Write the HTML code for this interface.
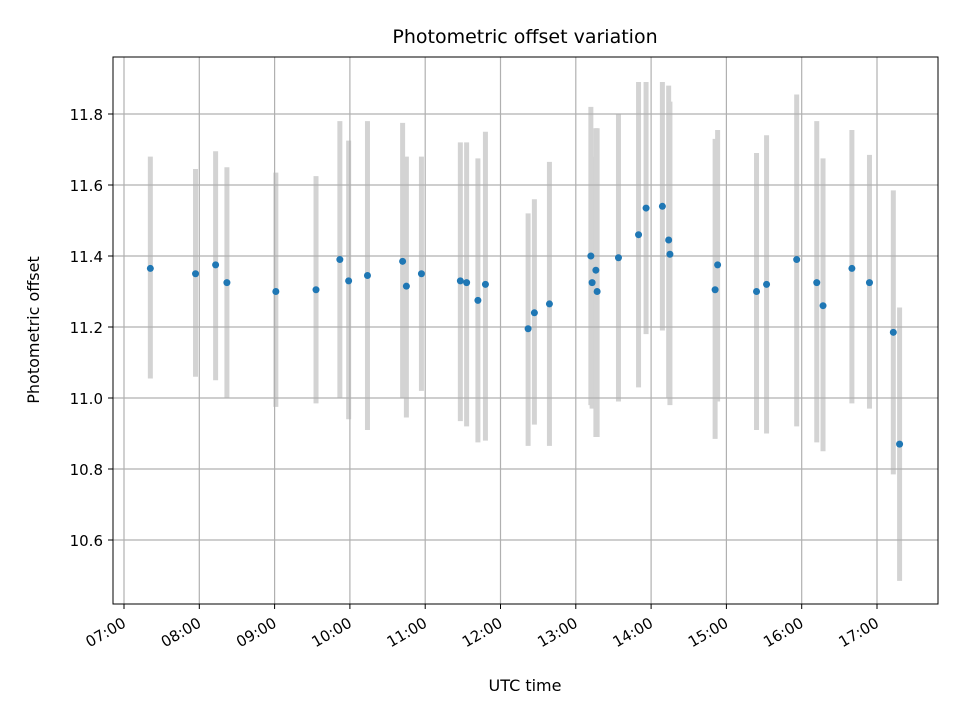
<!DOCTYPE html>
<html><head><meta charset="utf-8"><style>
body{margin:0;background:#fff}
svg{display:block;font-family:"DejaVu Sans","Liberation Sans",sans-serif}
</style></head><body>
<svg id="chart" width="960" height="720" xmlns="http://www.w3.org/2000/svg">
<rect width="960" height="720" fill="#fff"/>
<g id="bars"></g>
<g id="grid"></g>
<g id="pts"></g>
<rect x="113" y="57" width="825" height="547" fill="none" stroke="#000" stroke-width="1"/>
<g id="axes"></g>
<text x="525" y="43" text-anchor="middle" font-size="19">Photometric offset variation</text>
<text x="525" y="691" text-anchor="middle" font-size="16">UTC time</text>
<text transform="translate(39,330) rotate(-90)" text-anchor="middle" font-size="16">Photometric offset</text>
</svg>
<script>
const times=["07:21","07:57","08:13","08:22","09:01","09:33","09:52","09:59","10:14","10:42","10:45","10:57","11:28","11:33","11:42","11:48","12:22","12:27","12:39","13:12","13:13","13:16","13:17","13:34","13:50","13:56","14:09","14:14","14:15","14:51","14:53","15:24","15:32","15:56","16:12","16:17","16:40","16:54","17:13","17:18"];
const values=[11.365,11.35,11.375,11.325,11.30,11.305,11.39,11.33,11.345,11.385,11.315,11.35,11.33,11.325,11.275,11.32,11.195,11.24,11.265,11.40,11.325,11.36,11.30,11.395,11.46,11.535,11.54,11.445,11.405,11.305,11.375,11.30,11.32,11.39,11.325,11.26,11.365,11.325,11.185,10.87];
const upper=[11.68,11.645,11.695,11.65,11.635,11.625,11.78,11.725,11.78,11.775,11.68,11.68,11.72,11.72,11.675,11.75,11.52,11.56,11.665,11.82,11.68,11.76,11.76,11.80,11.89,11.89,11.89,11.88,11.835,11.73,11.755,11.69,11.74,11.855,11.78,11.675,11.755,11.685,11.585,11.255];
const lower=[11.055,11.06,11.05,11.0,10.975,10.985,11.0,10.94,10.91,11.0,10.945,11.02,10.935,10.92,10.875,10.88,10.865,10.925,10.865,10.98,10.97,10.89,10.89,10.99,11.03,11.18,11.19,11.0,10.98,10.885,10.99,10.91,10.9,10.92,10.875,10.85,10.985,10.97,10.785,10.485];
const xTicks=["07:00","08:00","09:00","10:00","11:00","12:00","13:00","14:00","15:00","16:00","17:00"];
const yTicks=[10.6,10.8,11.0,11.2,11.4,11.6,11.8];
const NS="http://www.w3.org/2000/svg";
function mins(t){const p=t.split(":");return +p[0]*60+ +p[1];}
function X(t){return 124+(mins(t)-420)*75.3/60;}
function Y(v){return 398-(v-11.0)*355;}
function mk(tag,attrs,parent){const e=document.createElementNS(NS,tag);for(const k in attrs)e.setAttribute(k,attrs[k]);document.getElementById(parent).appendChild(e);return e;}
times.forEach((t,i)=>{
 const b=mk("line",{x1:X(t),x2:X(t),y1:Y(upper[i]),y2:Y(lower[i]),stroke:"#d3d3d3","stroke-width":5},"bars");
 
 
});
xTicks.forEach(t=>{
 const x=X(t);
 const g=mk("line",{x1:x,x2:x,y1:57,y2:604,stroke:"#b0b0b0","stroke-width":1.2},"grid");
 
 
 const tk=mk("line",{x1:x,x2:x,y1:604,y2:609,stroke:"#000"},"axes");
 
 
 const lb=mk("text",{transform:`translate(${x+3},${626}) rotate(-30)`,"text-anchor":"end","font-size":15},"axes");
 lb.textContent=t;
 
 
});
yTicks.forEach(v=>{
 const y=Y(v);
 const g=mk("line",{x1:113,x2:938,y1:y,y2:y,stroke:"#b0b0b0","stroke-width":1.2},"grid");
 
 
 const tk=mk("line",{x1:108,x2:113,y1:y,y2:y,stroke:"#000"},"axes");
 
 
 const lb=mk("text",{x:103,y:y+6,"text-anchor":"end","font-size":15},"axes");
 lb.textContent=v.toFixed(1);
 
 
});
times.forEach((t,i)=>{
 const c=mk("circle",{cx:X(t),cy:Y(values[i]),r:3.5,fill:"#1f77b4"},"pts");
 
 
});
</script>
</body></html>
